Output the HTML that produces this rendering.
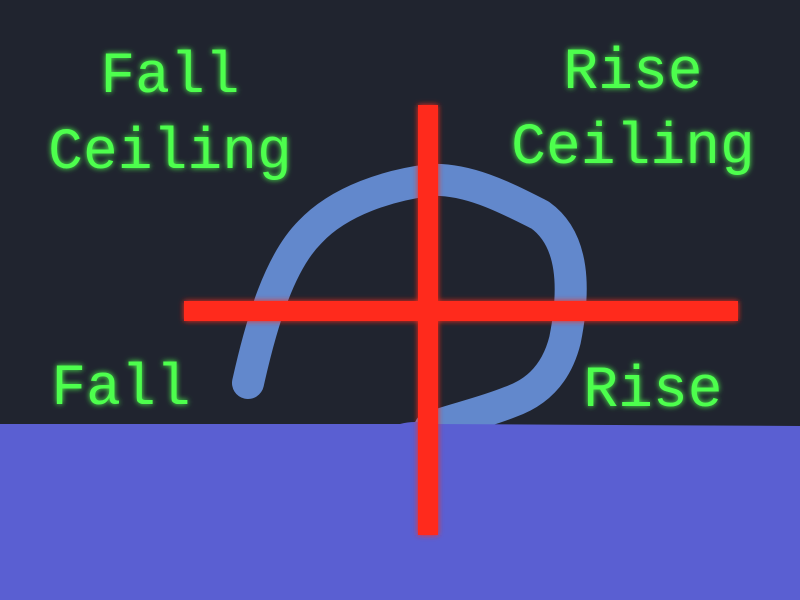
<!DOCTYPE html>
<html><head><meta charset="utf-8"><style>
html,body{margin:0;padding:0;background:#20242f;}
svg{display:block}
text{font-family:"Liberation Mono","DejaVu Sans Mono",monospace;font-size:58px;fill:#4dff4d;}
</style></head><body>
<svg width="800" height="600" viewBox="0 0 800 600" xmlns="http://www.w3.org/2000/svg">
<defs>
<filter id="glow" x="-20%" y="-20%" width="140%" height="140%"><feGaussianBlur stdDeviation="3" result="b"/><feMerge><feMergeNode in="b"/><feMergeNode in="SourceGraphic"/></feMerge></filter>
</defs>
<rect width="800" height="600" fill="#20242f"/>
<path d="M248 383 C262 320 280 262 310 232 C340 200 390 185 430 180 C470 178 510 200 540 215 C575 240 575 290 565 340 C555 380 530 395 510 402 C480 414 450 420 430 428" fill="none" stroke="#6288cc" stroke-width="32" stroke-linecap="round" stroke-linejoin="round"/>
<path d="M0 424 L400 424 Q415 420 430 424 L800 426 L800 600 L0 600 Z" fill="#5a5fd2"/>
<g filter="url(#glow)">
<rect x="418" y="105" width="20" height="430" fill="#ff2a1f"/>
<rect x="184" y="301" width="554" height="20" fill="#ff2a1f"/>
</g>
<g filter="url(#glow)">
<text x="170" y="92" text-anchor="middle">Fall</text>
<text x="170" y="168" text-anchor="middle">Ceiling</text>
<text x="633" y="88" text-anchor="middle">Rise</text>
<text x="633" y="163" text-anchor="middle">Ceiling</text>
<text x="121" y="404" text-anchor="middle">Fall</text>
<text x="653" y="406" text-anchor="middle">Rise</text>
</g>
</svg>
</body></html>
